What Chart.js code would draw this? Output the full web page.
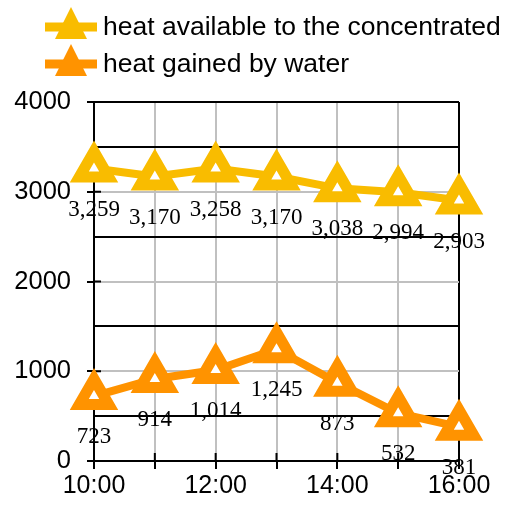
<!DOCTYPE html>
<html>
<head>
<meta charset="utf-8">
<script src="https://cdn.jsdelivr.net/npm/chart.js@4/dist/chart.umd.min.js"></script>
<style>
  html, body { margin: 0; padding: 0; background: #fff; }
  #wrap { width: 506px; height: 507px; }
</style>
</head>
<body>
<div id="wrap"><canvas id="myChart" width="506" height="507"></canvas></div>
<script>
const hours = ["10:00", "11:00", "12:00", "13:00", "14:00", "15:00", "16:00"];
const heatAvailable = [3259, 3170, 3258, 3170, 3038, 2994, 2903];
const heatGained = [723, 914, 1014, 1245, 873, 532, 381];
const seriesNames = ["heat available to the concentrated", "heat gained by water"];
const seriesColors = ["#F9BC00", "#FF9300"];
const yTicks = [0, 1000, 2000, 3000, 4000];

const sansFont = "'Liberation Sans', Arial, sans-serif";
const serifFont = "'Liberation Serif', 'Times New Roman', serif";

// legend drawn by hand, left aligned like the original
const legendPlugin = {
  id: "handLegend",
  afterDraw(chart) {
    const ctx = chart.ctx;
    const rows = [27, 64];
    chart.data.datasets.forEach((ds, i) => {
      const cy = rows[i];
      ctx.save();
      ctx.strokeStyle = ds.borderColor;
      ctx.lineWidth = 9;
      ctx.beginPath();
      ctx.moveTo(45, cy);
      ctx.lineTo(97, cy);
      ctx.stroke();
      ctx.fillStyle = ds.borderColor;
      ctx.beginPath();
      ctx.moveTo(71, cy - 20);
      ctx.lineTo(87, cy + 12);
      ctx.lineTo(55, cy + 12);
      ctx.closePath();
      ctx.fill();
      ctx.fillStyle = "#000";
      ctx.font = "26.5px " + sansFont;
      ctx.textBaseline = "alphabetic";
      ctx.fillText(ds.label, 103, cy + 8);
      ctx.restore();
    });
  },
};

// tick marks crossing the axes
const crossTicks = {
  id: "crossTicks",
  beforeDatasetsDraw(chart) {
    const ctx = chart.ctx;
    const x = chart.scales.x;
    const y = chart.scales.y;
    const area = chart.chartArea;
    ctx.save();
    ctx.strokeStyle = "#000";
    ctx.lineWidth = 2;
    ctx.beginPath();
    yTicks.forEach((v) => {
      const py = y.getPixelForValue(v);
      ctx.moveTo(area.left, py);
      ctx.lineTo(area.left + 7, py);
    });
    hours.forEach((h, i) => {
      const px = x.getPixelForValue(i);
      ctx.moveTo(px, area.bottom);
      ctx.lineTo(px, area.bottom - 8);
    });
    ctx.stroke();
    ctx.restore();
  },
};

// value labels under each point
const valueLabels = {
  id: "valueLabels",
  afterDatasetsDraw(chart) {
    const ctx = chart.ctx;
    ctx.save();
    ctx.fillStyle = "#000";
    ctx.font = "23px " + serifFont;
    ctx.textAlign = "center";
    ctx.textBaseline = "middle";
    chart.data.datasets.forEach((ds, i) => {
      const meta = chart.getDatasetMeta(i);
      meta.data.forEach((pt, j) => {
        ctx.fillText(ds.data[j].toLocaleString("en-US"), pt.x, pt.y + 41);
      });
    });
    ctx.restore();
  },
};

const ctx = document.getElementById("myChart").getContext("2d");
const myChart = new Chart(ctx, {
  type: "line",
  data: {
    labels: hours,
    datasets: [
      {
        label: seriesNames[0],
        data: heatAvailable,
        borderColor: seriesColors[0],
        backgroundColor: seriesColors[0],
        borderWidth: 8,
        pointStyle: "triangle",
        pointRadius: 17,
        pointBorderWidth: 11,
        pointBackgroundColor: "#fff",
        pointBorderColor: seriesColors[0],
        tension: 0,
      },
      {
        label: seriesNames[1],
        data: heatGained,
        borderColor: seriesColors[1],
        backgroundColor: seriesColors[1],
        borderWidth: 8,
        pointStyle: "triangle",
        pointRadius: 17,
        pointBorderWidth: 11,
        pointBackgroundColor: "#fff",
        pointBorderColor: seriesColors[1],
        tension: 0,
      },
    ],
  },
  options: {
    responsive: false,
    animation: false,
    layout: { padding: { top: 102, right: 47, left: 0, bottom: 0 } },
    plugins: {
      legend: { display: false },
      tooltip: { enabled: false },
    },
    scales: {
      x: {
        offset: false,
        afterFit(scale) { scale.height = 46; },
        border: { color: "#000", width: 2 },
        grid: {
          color: (c) => (c.index === hours.length - 1 ? "#000" : "#c0c0c0"),
          lineWidth: 2,
          tickLength: 8,
          tickColor: "#000",
          tickWidth: 2,
        },
        ticks: {
          autoSkip: false,
          maxRotation: 0,
          color: "#000",
          font: { family: sansFont, size: 25 },
          padding: 2,
          callback: (v, i) => (i % 2 === 0 ? hours[i] : ""),
        },
      },
      y: {
        min: 0,
        max: 4000,
        afterFit(scale) { scale.width = 94; },
        border: { color: "#000", width: 2 },
        grid: {
          color: (c) => {
            const v = c.tick.value;
            return v % 1000 === 0 && v !== 4000 && v !== 0 ? "#c0c0c0" : "#000";
          },
          lineWidth: 2,
          tickLength: 7,
          tickWidth: 2,
          tickColor: (c) => (c.tick.value % 1000 === 0 ? "#000" : "rgba(0,0,0,0)"),
        },
        ticks: {
          stepSize: 500,
          color: "#000",
          font: { family: sansFont, size: 25.5 },
          padding: 16,
          callback: (v) => (yTicks.includes(v) ? String(v) : ""),
        },
      },
    },
  },
  plugins: [crossTicks, valueLabels, legendPlugin],
});
</script>
</body>
</html>
